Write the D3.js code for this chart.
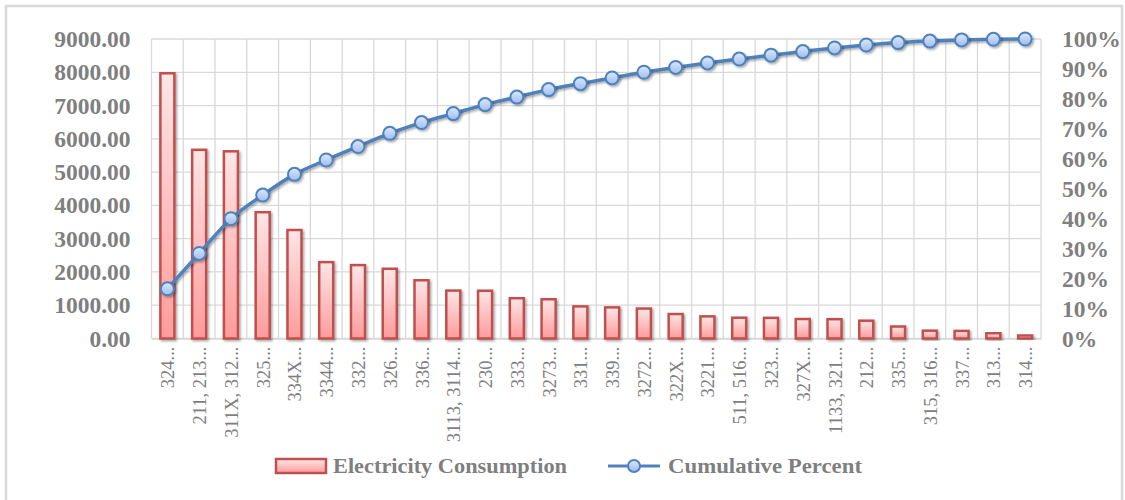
<!DOCTYPE html>
<html><head><meta charset="utf-8">
<script src="https://cdn.jsdelivr.net/npm/d3@7"></script>
<style>html,body{margin:0;padding:0;background:#fff;}svg{display:block;}</style>
</head><body>
<svg id="chart" width="1125" height="500"></svg>
<script>
const categories = ["324...", "211, 213...", "311X, 312...", "325...", "334X...", "3344...", "332...", "326...", "336...", "3113, 3114...", "230...", "333...", "3273...", "331...", "339...", "3272...", "322X...", "3221...", "511, 516...", "323...", "327X...", "1133, 321...", "212...", "335...", "315, 316...", "337...", "313...", "314..."];
const consumption = [7970, 5670, 5625, 3795, 3260, 2295, 2205, 2095, 1750, 1440, 1435, 1210, 1180, 965, 935, 900, 735, 665, 625, 620, 585, 580, 535, 360, 235, 228, 160, 90];
const cumulativePercent = [16.6, 28.4, 40.0, 47.9, 54.8, 59.6, 64.1, 68.5, 72.1, 75.1, 78.1, 80.6, 83.1, 85.1, 87.0, 88.9, 90.5, 92.0, 93.3, 94.6, 95.8, 97.0, 98.0, 98.8, 99.3, 99.7, 99.9, 100];
const leftTicks = [0, 1000, 2000, 3000, 4000, 5000, 6000, 7000, 8000, 9000];
const rightTicks = [0, 10, 20, 30, 40, 50, 60, 70, 80, 90, 100];
const seriesNames = ["Electricity Consumption", "Cumulative Percent"];

const svg = d3.select("#chart");
const L = 151.5, R = 1041, T = 39, B = 338.5;
const gray = "#7f7f7f";
const font = "'Liberation Serif', 'DejaVu Serif', serif";

const defs = svg.append("defs");
const bg = defs.append("linearGradient").attr("id","barGrad").attr("x1",0).attr("y1",0).attr("x2",0).attr("y2",1);
bg.append("stop").attr("offset","0%").attr("stop-color","#ffe6e6");
bg.append("stop").attr("offset","100%").attr("stop-color","#ff9b9b");
const mg = defs.append("linearGradient").attr("id","mkGrad").attr("x1",0).attr("y1",0).attr("x2",0).attr("y2",1);
mg.append("stop").attr("offset","0%").attr("stop-color","#dce9fc");
mg.append("stop").attr("offset","100%").attr("stop-color","#9dbdee");
const sh = defs.append("filter").attr("id","shadow").attr("x","-20%").attr("y","-20%").attr("width","150%").attr("height","150%");
sh.append("feDropShadow").attr("dx",1.5).attr("dy",1.5).attr("stdDeviation",1.2).attr("flood-color","#000").attr("flood-opacity",0.35);

// outer frame
svg.append("rect").attr("x",6).attr("y",6).attr("width",1116).attr("height",520)
  .attr("fill","none").attr("stroke","#d9d9d9").attr("stroke-width",2.5);

const x = d3.scaleBand().domain(categories).range([L, R]).paddingInner(0).paddingOuter(0);
const yL = d3.scaleLinear().domain([0, 9000]).range([B, T]);
const yR = d3.scaleLinear().domain([0, 100]).range([B, T]);

// grid
const grid = svg.append("g");
grid.selectAll("line.h").data(leftTicks).join("line")
  .attr("x1", L).attr("x2", R).attr("y1", d => yL(d)).attr("y2", d => yL(d))
  .attr("stroke", "#d9d9d9").attr("stroke-width", 1.3);
const vlines = categories.map(c => x(c)).concat([R]);
grid.selectAll("line.v").data(vlines).join("line")
  .attr("x1", d => d).attr("x2", d => d).attr("y1", T).attr("y2", B)
  .attr("stroke", "#d9d9d9").attr("stroke-width", 1.3);

// left axis
const axL = svg.append("g").attr("transform", `translate(${L},0)`)
  .call(d3.axisLeft(yL).tickValues(leftTicks).tickFormat(d3.format(".2f")).tickSize(0).tickPadding(21));
axL.select(".domain").remove();
axL.selectAll("text").attr("font-family", font).attr("font-weight","bold").attr("font-size", 23.5).attr("fill", gray);

// right axis
const axR = svg.append("g").attr("transform", `translate(${R},0)`)
  .call(d3.axisRight(yR).tickValues(rightTicks).tickFormat(d => d + "%").tickSize(0).tickPadding(21));
axR.select(".domain").remove();
axR.selectAll("text").attr("font-family", font).attr("font-weight","bold").attr("font-size", 23.5).attr("fill", gray);

// bottom axis
const axB = svg.append("g").attr("transform", `translate(0,${B})`)
  .call(d3.axisBottom(x).tickSize(0).tickPadding(0));
axB.select(".domain").attr("stroke", "#d9d9d9").attr("stroke-width", 1.3);
axB.selectAll("text")
  .attr("font-family", font).attr("font-size", 18.5).attr("fill", gray)
  .attr("text-anchor", "end").attr("dy", null).attr("y", 0)
  .attr("dominant-baseline", "central")
  .attr("transform", "translate(1,8) rotate(-90)");

// bars
const bw = 14;
svg.append("g").selectAll("rect").data(consumption).join("rect")
  .attr("x", (d,i) => x(categories[i]) + x.bandwidth()/2 - bw/2)
  .attr("y", d => yL(d))
  .attr("width", bw)
  .attr("height", d => B - yL(d))
  .attr("fill", "url(#barGrad)").attr("stroke", "#c0504d").attr("stroke-width", 2.5)
  .attr("filter", "url(#shadow)");

// line
const line = d3.line().x((d,i) => x(categories[i]) + x.bandwidth()/2).y(d => yR(d)).curve(d3.curveMonotoneX);
svg.append("path").datum(cumulativePercent).attr("d", line)
  .attr("fill","none").attr("stroke","#4f81bd").attr("stroke-width",3.5).attr("filter","url(#shadow)");
svg.append("g").selectAll("circle").data(cumulativePercent).join("circle")
  .attr("cx", (d,i) => x(categories[i]) + x.bandwidth()/2)
  .attr("cy", d => yR(d)).attr("r", 6.5)
  .attr("fill","url(#mkGrad)").attr("stroke","#4f81bd").attr("stroke-width",2)
  .attr("filter","url(#shadow)");

// legend
const lg = svg.append("g");
lg.append("rect").attr("x",276).attr("y",459).attr("width",50).attr("height",14)
  .attr("fill","url(#barGrad)").attr("stroke","#c0504d").attr("stroke-width",2.5);
lg.append("text").attr("x",333).attr("y",466).attr("dominant-baseline","central")
  .attr("font-family",font).attr("font-weight","bold").attr("font-size",21.5).attr("fill",gray)
  .attr("textLength",234).attr("lengthAdjust","spacingAndGlyphs")
  .text(seriesNames[0]);
lg.append("line").attr("x1",608).attr("x2",660).attr("y1",466).attr("y2",466)
  .attr("stroke","#4f81bd").attr("stroke-width",3);
lg.append("circle").attr("cx",634).attr("cy",466).attr("r",6)
  .attr("fill","url(#mkGrad)").attr("stroke","#4f81bd").attr("stroke-width",2);
lg.append("text").attr("x",668).attr("y",466).attr("dominant-baseline","central")
  .attr("font-family",font).attr("font-weight","bold").attr("font-size",21.5).attr("fill",gray)
  .attr("textLength",194).attr("lengthAdjust","spacingAndGlyphs")
  .text(seriesNames[1]);
</script>
</body></html>
